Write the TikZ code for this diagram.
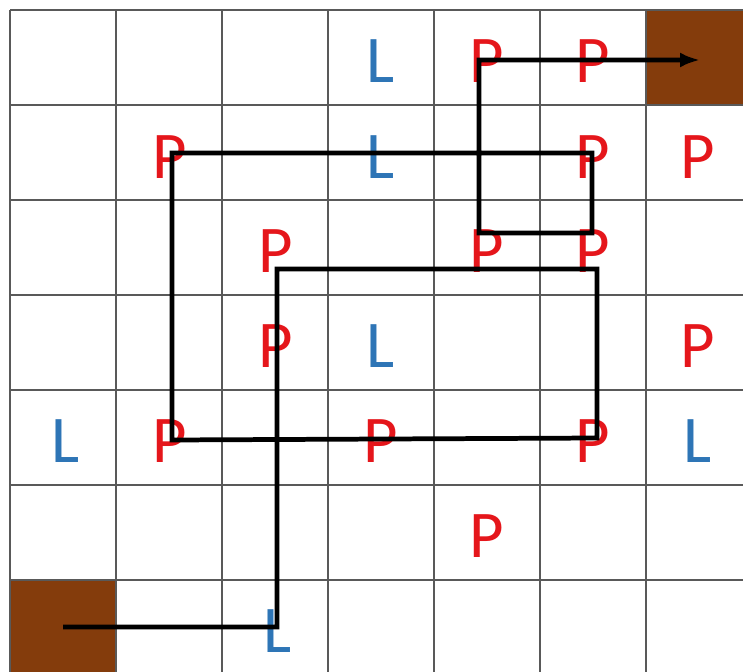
\documentclass[tikz,border=0pt]{standalone}
\usepackage{fontspec}
\setmainfont{Carlito}
\usetikzlibrary{arrows.meta}

\definecolor{goalbrown}{HTML}{843C0C}
\definecolor{pred}{HTML}{E5161B}
\definecolor{lblue}{HTML}{2E75B6}

\begin{document}
\begin{tikzpicture}[
  x=0.02cm, y=-0.02cm,
  gridline/.style={draw=black!65, line width=0.8pt},
  goal/.style={
    fill=goalbrown, draw=none, inner sep=0pt,
    minimum width=2.12cm, minimum height=1.9cm
  },
  pl/.style={text=pred, inner sep=0pt, font=\fontsize{38}{38}\selectfont},
  ll/.style={text=lblue, inner sep=0pt, font=\fontsize{38}{38}\selectfont},
  route/.style={line width=2.7pt, -{Latex[length=4mm,width=3mm]}},
]
\useasboundingbox (0,0) rectangle (743,672);
\clip (0,0) rectangle (743,672);

%% start and goal cells
\node[goal] (start) at (63,627) {};
\node[goal] (finish) at (698,57.5) {};

%% board
\foreach \i in {0,...,6}
  \draw[gridline] ({10+106*\i},10) -- ({10+106*\i},672);
\foreach \j in {0,...,6}
  \draw[gridline] (10,{10+95*\j}) -- (743,{10+95*\j});

%% row 0
\node[ll] (l03) at (381,61) {L};
\node[pl] (p04) at (487,61) {P};
\node[pl] (p05) at (593,61) {P};
%% row 1
\node[pl] (p11) at (170,157) {P};
\node[ll] (l13) at (381,157) {L};
\node[pl] (p15) at (593,157) {P};
\node[pl] (p16) at (698,157) {P};
%% row 2
\node[pl] (p22) at (276,251) {P};
\node[pl] (p24) at (487,251) {P};
\node[pl] (p25) at (593,251) {P};
%% row 3
\node[pl] (p32) at (276,346) {P};
\node[ll] (l33) at (381,346) {L};
\node[pl] (p36) at (698,346) {P};
%% row 4
\node[ll] (l40) at (66,441) {L};
\node[pl] (p41) at (170,441) {P};
\node[pl] (p43) at (381,441) {P};
\node[pl] (p45) at (593,441) {P};
\node[ll] (l46) at (698,441) {L};
%% row 5
\node[pl] (p54) at (487,536) {P};
%% row 6
\node[ll] (l62) at (278,631) {L};

%% turning points of the route
\coordinate (t1) at (277,627);
\coordinate (t2) at (277,269);
\coordinate (t3) at (597,269);
\coordinate (t4) at (597,438);
\coordinate (t5) at (172,440);
\coordinate (t6) at (172,153);
\coordinate (t7) at (592,153);
\coordinate (t8) at (592,233);
\coordinate (t9) at (479,233);
\coordinate (t10) at (479,60);
\coordinate (tip) at (700,60);

\draw[route] (start.center) -- (t1) -- (t2) -- (t3) -- (t4) -- (t5)
  -- (t6) -- (t7) -- (t8) -- (t9) -- (t10) -- (tip);
\end{tikzpicture}
\end{document}
